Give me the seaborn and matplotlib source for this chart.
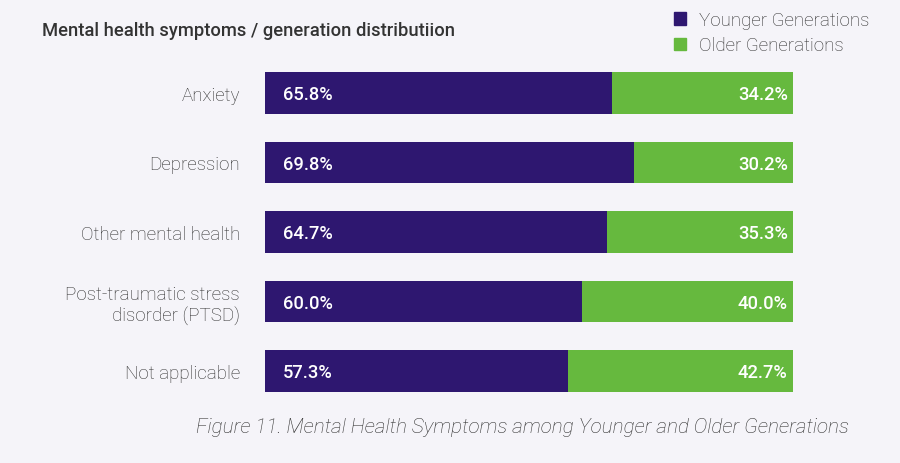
import matplotlib
matplotlib.use("Agg")
import matplotlib.pyplot as plt
import seaborn as sns
import pandas as pd
from matplotlib.patches import Patch

categories = ["Anxiety", "Depression", "Other mental health",
              "Post-traumatic stress\ndisorder (PTSD)", "Not applicable"]
younger = [65.8, 69.8, 64.7, 60.0, 57.3]
older = [34.2, 30.2, 35.3, 40.0, 42.7]

purple = "#2e1770"
green = "#66b93e"
bg = "#f5f4f9"
text_col = "#2e2e2e"

sns.set_theme(style="white")
plt.rcParams["font.family"] = ["Roboto", "DejaVu Sans"]

df = pd.DataFrame({"category": categories, "younger": younger, "older": older})
df["total"] = df["younger"] + df["older"]

fig = plt.figure(figsize=(9, 4.64), dpi=100, facecolor=bg)
ax = fig.add_axes([0.2944, 0.1234, 0.5867, 0.7489])
ax.set_facecolor(bg)

sns.barplot(data=df, x="total", y="category", color=green, width=0.6,
            saturation=1, ax=ax, edgecolor="none")
sns.barplot(data=df, x="younger", y="category", color=purple, width=0.6,
            saturation=1, ax=ax, edgecolor="none")

for i, (y, o) in enumerate(zip(younger, older)):
    ax.text(3.4, i + 0.02, f"{y:.1f}%", color="white", fontsize=13.2,
            fontweight="medium", va="center", ha="left")
    ax.text(y + o - 1.0, i + 0.02, f"{o:.1f}%", color="white", fontsize=13.2,
            fontweight="medium", va="center", ha="right")

ax.set_xlim(0, 100)
ax.set_ylim(4.5, -0.5)
ax.set_xlabel("")
ax.set_ylabel("")
ax.set_xticks([])
ax.tick_params(axis="y", length=0, pad=18)
for lbl in ax.get_yticklabels():
    lbl.set_fontsize(13.5)
    lbl.set_fontweight("light")
    lbl.set_color(text_col)
    lbl.set_horizontalalignment("right")
for s in ax.spines.values():
    s.set_visible(False)

fig.text(42 / 900, 1 - 31 / 464, "Mental health symptoms / generation distributiion",
         fontsize=13.2, fontweight="medium", color="#333333", va="center", ha="left")

handles = [Patch(color=purple, label="Younger Generations"),
           Patch(color=green, label="Older Generations")]
fig.legend(handles=handles, loc="upper left", bbox_to_anchor=(657 / 900, 1 + 5 / 464),
           frameon=False, handlelength=0.65, handleheight=0.65,
           handletextpad=0.7, labelspacing=0.4, labelcolor=text_col,
           prop={"weight": "light", "size": 13.5})

fig.text(849 / 900, 1 - 428 / 464,
         "Figure 11. Mental Health Symptoms among Younger and Older Generations",
         fontsize=14.9, fontstyle="italic", fontweight="light", color=text_col,
         va="center", ha="right")

fig.savefig("out.png", dpi=100, facecolor=bg)
